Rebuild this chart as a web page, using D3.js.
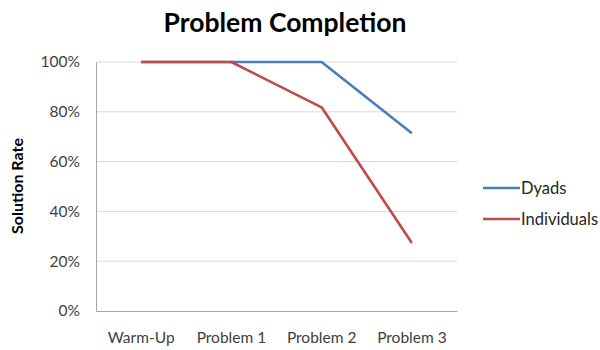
<!DOCTYPE html>
<html>
<head>
<meta charset="utf-8">
<script src="https://cdn.jsdelivr.net/npm/d3@7/dist/d3.min.js"></script>
<style>
  html, body { margin: 0; padding: 0; background: #fff; }
  svg { display: block; }
  text { font-family: Lato, "Open Sans", "Noto Sans", sans-serif; }
</style>
</head>
<body>
<svg id="chart" width="600" height="350"></svg>
<script>
// Chart data
const categories = ["Warm-Up", "Problem 1", "Problem 2", "Problem 3"];
const seriesNames = ["Dyads", "Individuals"];
const dyads = [1.0, 1.0, 1.0, 0.714];
const individuals = [1.0, 1.0, 0.818, 0.273];
const yTicks = [0, 0.2, 0.4, 0.6, 0.8, 1.0];
const seriesColors = ["#4A7EBB", "#BE4B48"];

const series = [
  { name: seriesNames[0], values: dyads, color: seriesColors[0] },
  { name: seriesNames[1], values: individuals, color: seriesColors[1] }
];

const svg = d3.select("#chart");
const plot = { left: 96, right: 457, top: 62, bottom: 311 };

const x = d3.scaleBand().domain(categories).range([plot.left, plot.right]).padding(0);
const y = d3.scaleLinear().domain([0, 1]).range([plot.bottom, plot.top]);

// Title
svg.append("text")
  .attr("x", 285).attr("y", 32)
  .attr("text-anchor", "middle")
  .attr("font-size", 26.5).attr("font-weight", "bold")
  .attr("fill", "#000")
  .text("Problem Completion");

// Horizontal gridlines
svg.append("g")
  .selectAll("line")
  .data(yTicks.filter(d => d > 0))
  .join("line")
  .attr("x1", plot.left).attr("x2", plot.right)
  .attr("y1", d => y(d)).attr("y2", d => y(d))
  .attr("stroke", "#D9D9D9").attr("stroke-width", 1);

// Y axis
const yAxis = svg.append("g")
  .attr("transform", `translate(${plot.left},0)`)
  .call(d3.axisLeft(y).tickValues(yTicks).tickFormat(d3.format(".0%")).tickSize(0).tickPadding(16));
yAxis.select(".domain").attr("stroke", "#A6A6A6");
yAxis.selectAll("text").attr("font-size", 15.5).attr("fill", "#404040")
  .attr("font-family", "Lato, 'Open Sans', sans-serif");

// X axis
const xAxis = svg.append("g")
  .attr("transform", `translate(0,${plot.bottom})`)
  .call(d3.axisBottom(x).tickSize(0).tickPadding(21));
xAxis.select(".domain").attr("stroke", "#A6A6A6");
xAxis.selectAll("text").attr("font-size", 15.5).attr("fill", "#404040")
  .attr("font-family", "Lato, 'Open Sans', sans-serif");

// Y axis title
svg.append("text")
  .attr("transform", "translate(23,186) rotate(-90)")
  .attr("text-anchor", "middle")
  .attr("font-size", 16).attr("font-weight", "bold")
  .attr("fill", "#000")
  .text("Solution Rate");

// Lines
const line = d3.line()
  .x((d, i) => x(categories[i]) + x.bandwidth() / 2)
  .y(d => y(d));

svg.append("g")
  .selectAll("path")
  .data(series)
  .join("path")
  .attr("d", d => line(d.values))
  .attr("fill", "none")
  .attr("stroke", d => d.color)
  .attr("stroke-width", 2.6)
  .attr("stroke-linejoin", "round");

// Legend
const legend = svg.append("g")
  .selectAll("g")
  .data(series)
  .join("g")
  .attr("transform", (d, i) => `translate(483,${188 + i * 31})`);
legend.append("line")
  .attr("x1", 0).attr("x2", 37)
  .attr("stroke", d => d.color).attr("stroke-width", 2.6);
legend.append("text")
  .attr("x", 38).attr("y", 6)
  .attr("font-size", 16.5).attr("fill", "#262626")
  .text(d => d.name);
</script>
</body>
</html>
